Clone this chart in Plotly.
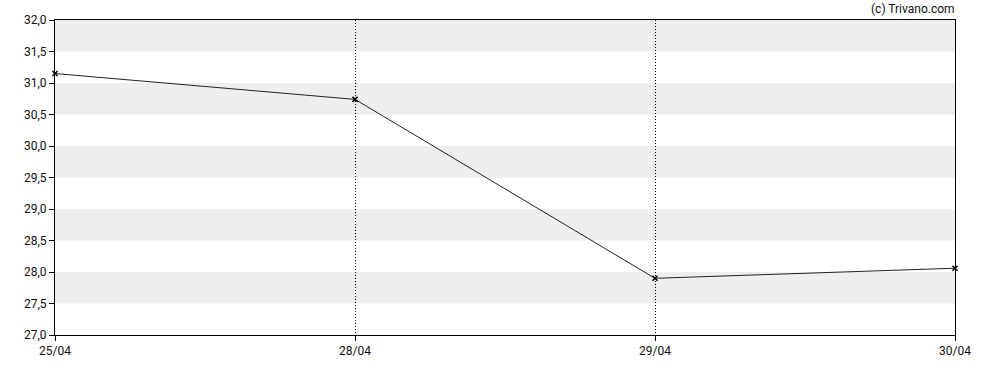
import plotly.graph_objects as go

dates = ["25/04", "28/04", "29/04", "30/04"]
prices = [31.15, 30.74, 27.90, 28.06]
y_ticks = [27.0, 27.5, 28.0, 28.5, 29.0, 29.5, 30.0, 30.5, 31.0, 31.5, 32.0]
bands = [(27.5, 28.0), (28.5, 29.0), (29.5, 30.0), (30.5, 31.0), (31.5, 32.0)]

xs = list(range(len(dates)))
fig = go.Figure()
fig.add_trace(go.Scatter(
    x=xs, y=prices, mode="lines+markers", cliponaxis=False,
    line=dict(color="#222222", width=1),
    marker=dict(symbol="x-thin", size=5, color="#000000",
                line=dict(width=1.5, color="#000000")),
    hoverinfo="skip", showlegend=False,
))
for lo, hi in bands:
    fig.add_shape(type="rect", xref="paper", yref="y", x0=0, x1=1, y0=lo, y1=hi,
                  fillcolor="#eeeeee", line=dict(width=0), layer="below")

fig.update_layout(
    width=988, height=370,
    margin=dict(l=55, r=33, t=20, b=35),
    paper_bgcolor="white", plot_bgcolor="white",
    separators=",.",
    font=dict(family="Roboto", size=12, color="#111111"),
    annotations=[dict(text="(c) Trivano.com", xref="paper", yref="paper",
                      x=1.002, y=1, xanchor="right", yanchor="bottom", yshift=2,
                      showarrow=False, font=dict(size=12, color="#111111"))],
)
fig.update_xaxes(
    range=[0, len(dates) - 1], tickvals=xs, ticktext=dates,
    showgrid=True, gridcolor="#000000", griddash="1px,2px", gridwidth=1,
    showline=True, linecolor="#000000", linewidth=1, mirror=True,
    ticks="outside", ticklen=5, tickcolor="#000000", zeroline=False,
)
fig.update_yaxes(
    range=[27.0, 32.0], tickvals=y_ticks, tickformat=".1f",
    showgrid=False, showline=True, linecolor="#000000", linewidth=1, mirror=True,
    ticks="outside", ticklen=5, tickcolor="#000000", zeroline=False,
)
fig.write_html("out.html")
